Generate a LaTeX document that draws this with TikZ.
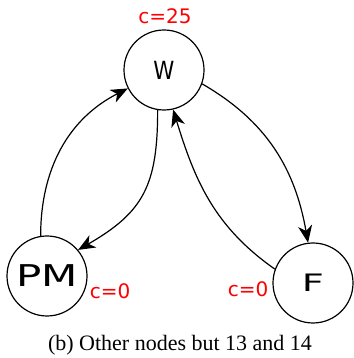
\documentclass[tikz,border=0pt]{standalone}
\usepackage{fontspec}
\setmainfont{Liberation Serif}
\newfontfamily\costfont{DejaVu Sans}
\newfontfamily\narrowfont[FakeStretch=0.85]{DejaVu Sans}
\newfontfamily\widefont[FakeStretch=1.4]{DejaVu Sans}
\newfontfamily\widerfont[FakeStretch=1.6]{DejaVu Sans}
\usetikzlibrary{arrows.meta}

\begin{document}
\begin{tikzpicture}[x=1pt,y=1pt,
	state/.style={circle,draw,line width=1.2pt,minimum size=80pt,inner sep=0pt},
	cost/.style={text=red,font=\costfont\fontsize{20}{20}\selectfont},
	link/.style={line width=1.2pt,-{Stealth[length=17pt,width=14pt,inset=5pt]}}]
	\useasboundingbox (0,0) rectangle (353,358);
    		\node[state] (NodeW)  at (164,288) {\narrowfont\fontsize{25}{25}\selectfont W};
    		\node[state] (NodePM) at (47,82)   {\widefont\fontsize{30}{30}\selectfont PM};
    		\node[state] (NodeF)  at (313,75)  {\widerfont\fontsize{24}{24}\selectfont F};

    		\node[cost] (CostW)  at (165,342) {c=25};
    		\node[cost] (CostPM) at (110,67)  {c=0};
    		\node[cost] (CostF)  at (248,69)  {c=0};

    		\draw[link] (NodePM.99) to[out=90,in=207] (NodeW.207);
    		\draw[link] (NodeW.261) to[out=270,in=30,looseness=1.2] (NodePM.40);
    		\draw[link] (NodeW.340) to[out=-30,in=100] (NodeF.97);
    		\draw[link] (NodeF.160) to[out=145,in=287] (NodeW.283);

    		\node[anchor=base,font=\fontsize{22}{22}\selectfont] (Caption) at (180,7.5)
        			{(b) Other nodes but 13 and 14};
	\end{tikzpicture}
\end{document}
